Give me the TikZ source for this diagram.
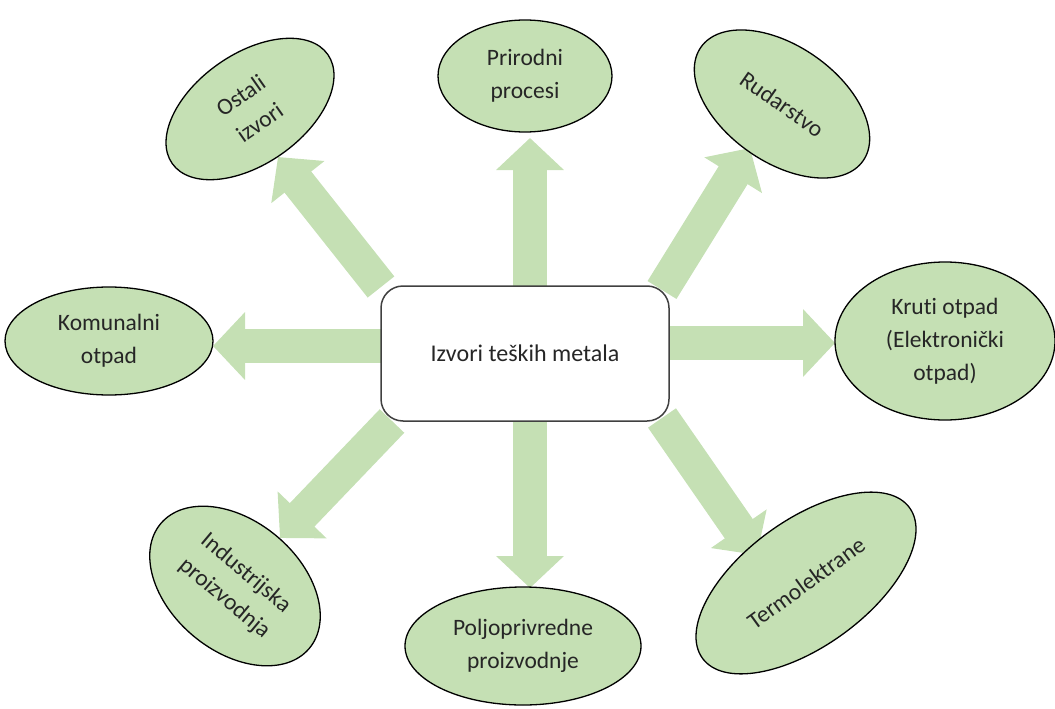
\documentclass[tikz,border=0pt]{standalone}
\usepackage{fontspec}
\setmainfont{Carlito}[Ligatures=NoCommon]
\usetikzlibrary{shapes.geometric,arrows.meta}
\pgfdeclarelayer{background}
\pgfsetlayers{background,main}
\definecolor{lgreen}{HTML}{C5E0B4}
\definecolor{boxline}{HTML}{404040}
\tikzset{
  ell/.style={ellipse, draw=black, line width=1.3pt, fill=lgreen, inner sep=0pt,
    align=center, font=\fontsize{23.5}{33}\selectfont, text=black!85},
  mainbox/.style={rectangle, rounded corners=22pt, draw=boxline, line width=1.5pt, fill=white,
    minimum width=288pt, minimum height=135pt, font=\fontsize{24}{28}\selectfont, text=black!85},
  bigarrow/.style={draw=lgreen, line width=34pt, -{Triangle[length=32pt,width=66pt,fill=lgreen]}}
}
\begin{document}
\begin{tikzpicture}[x=1pt,y=-1pt]
\useasboundingbox (0,0) rectangle (1055,709);
\node[mainbox] (c) at (525,353.5) {Izvori teških metala};
\node[ell, minimum width=174pt, minimum height=112pt] (pp) at (525,76) {Prirodni\\procesi};
\node[ell, minimum width=198pt, minimum height=116pt, rotate=-35] (ru) at (782,104) {Rudarstvo};
\node[ell, minimum width=220pt, minimum height=158pt] (ko) at (945,341) {Kruti otpad\\(Elektronički\\otpad)};
\node[ell, minimum width=256pt, minimum height=126pt, rotate=36] (te) at (806,583) {Termolektrane};
\node[ell, minimum width=236pt, minimum height=118pt] (po) at (523,646) {Poljoprivredne\\proizvodnje};
\node[ell, minimum width=194pt, minimum height=130pt, rotate=-40] (in) at (235,586) {Industrijska\\proizvodnja};
\node[ell, minimum width=208pt, minimum height=108pt] (km) at (109,341) {Komunalni\\otpad};
\node[ell, minimum width=190pt, minimum height=110pt, rotate=35] (os) at (250,109) {Ostali\\izvori};
% arrow end points
\coordinate (tN) at (530,287);  \coordinate (hN) at (530,138);
\coordinate (tS) at (530,420);  \coordinate (hS) at (530,588);
\coordinate (tW) at (382,346);  \coordinate (hW) at (213,346);
\coordinate (tE) at (668,343);  \coordinate (hE) at (835,343);
\coordinate (tNW) at (381,287); \coordinate (hNW) at (278,157);
\coordinate (tNE) at (662,290); \coordinate (hNE) at (750,148);
\coordinate (tSW) at (392,421); \coordinate (hSW) at (280,538);
\coordinate (tSE) at (662,418); \coordinate (hSE) at (757,555);
\begin{pgfonlayer}{background}
\foreach \d in {N,S,W,E,NW,NE,SW,SE}{
  \draw[bigarrow] (t\d) -- (h\d);
}
\end{pgfonlayer}
\end{tikzpicture}
\end{document}
